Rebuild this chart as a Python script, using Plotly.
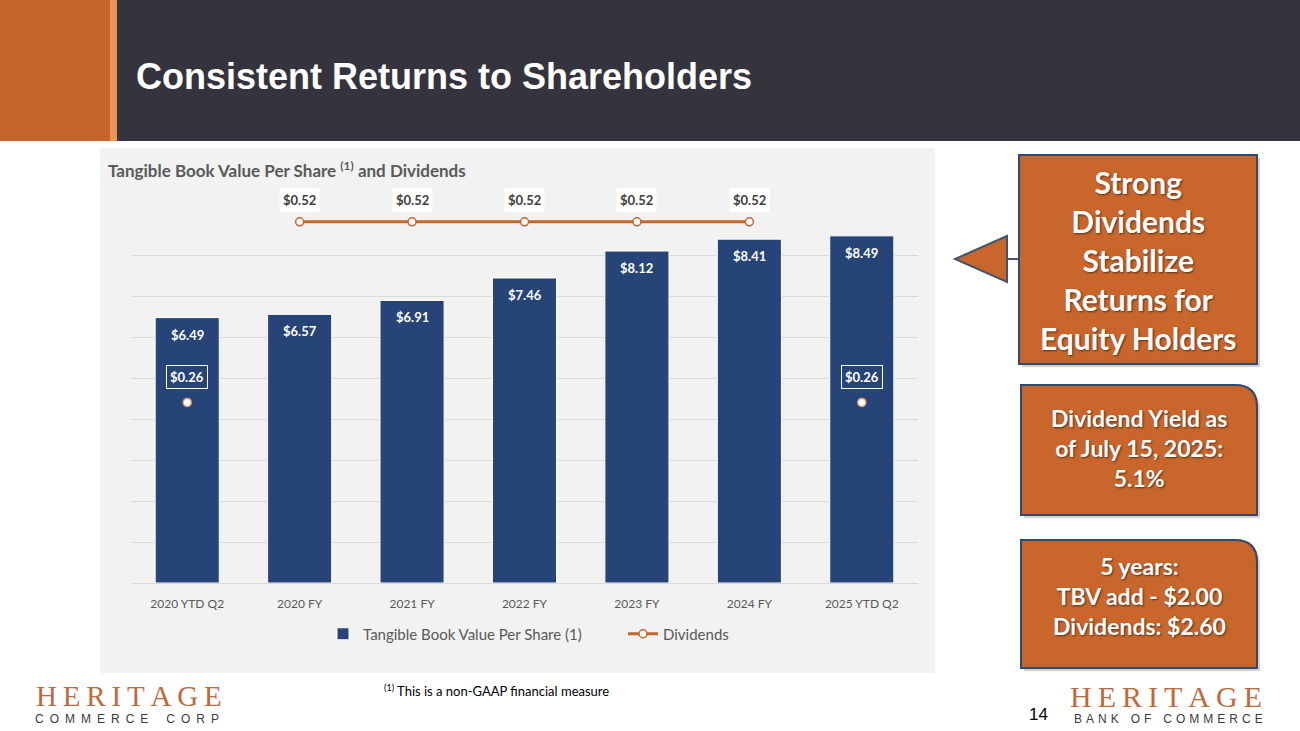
import plotly.graph_objects as go

W, H = 1300, 731

categories = ["2020 YTD Q2", "2020 FY", "2021 FY", "2022 FY", "2023 FY", "2024 FY", "2025 YTD Q2"]
tbv_per_share = [6.49, 6.57, 6.91, 7.46, 8.12, 8.41, 8.49]
dividends = [0.26, 0.52, 0.52, 0.52, 0.52, 0.52, 0.26]
tbv_label = "Tangible Book Value Per Share (1)"
div_label = "Dividends"

NAVY = "#264478"
ORANGE = "#C5662A"
GRAY_TXT = "#595959"
FONT = "Lato"


def X(px):
    return px / W


def Y(py):
    return 1 - py / H


def spaced(text, sep, word_sep):
    return word_sep.join(sep.join(w) for w in text.split(" "))


fy_div = [d if "FY" in c else None for c, d in zip(categories, dividends)]
ytd_div = [d if "YTD" in c else None for c, d in zip(categories, dividends)]

fig = go.Figure()
fig.add_trace(go.Bar(
    x=categories, y=tbv_per_share, name=tbv_label,
    marker=dict(color=NAVY, line=dict(color="white", width=1)),
    width=0.57, yaxis="y",
))
fig.add_trace(go.Scatter(
    x=categories, y=fy_div, name=div_label, mode="lines+markers",
    line=dict(color=ORANGE, width=3),
    marker=dict(size=8, color="white", line=dict(color=ORANGE, width=1.5)),
    yaxis="y2", connectgaps=False,
))
fig.add_trace(go.Scatter(
    x=categories, y=ytd_div, name=div_label, mode="markers", showlegend=False,
    marker=dict(size=8, color="white", line=dict(color="#E9A46C", width=1.5)),
    yaxis="y2",
))

annotations = []
for c, v in zip(categories, tbv_per_share):
    annotations.append(dict(
        x=c, y=v, xref="x", yref="y", text=f"${v:.2f}", showarrow=False,
        yshift=-17, font=dict(family=FONT, size=13, color="white", weight="bold"),
    ))
for c, d in zip(categories, dividends):
    if "FY" in c:
        annotations.append(dict(
            x=c, y=d, xref="x", yref="y2", text=f"${d:.2f}", showarrow=False,
            yshift=22, bgcolor="white", borderpad=3,
            font=dict(family=FONT, size=13, color="#404040", weight="bold"),
        ))
    else:
        annotations.append(dict(
            x=c, y=d, xref="x", yref="y2", text=f"${d:.2f}", showarrow=False,
            yshift=25, bgcolor=NAVY, bordercolor="white", borderwidth=1, borderpad=3,
            font=dict(family=FONT, size=13, color="white", weight="bold"),
        ))

annotations.append(dict(
    x=X(134), y=Y(77), xref="paper", yref="paper", xanchor="left", yanchor="middle",
    text="<b>Consistent Returns to Shareholders</b>", showarrow=False,
    font=dict(family="Liberation Sans", size=36, color="white"),
))
annotations.append(dict(
    x=X(106), y=Y(170), xref="paper", yref="paper", xanchor="left", yanchor="middle",
    text="<b>Tangible Book Value Per Share <sup>(1)</sup> and Dividends</b>", showarrow=False,
    font=dict(family=FONT, size=17, color=GRAY_TXT),
))
shadow = "1px 1px 2px rgba(0,0,0,0.55)"
annotations.append(dict(
    x=X(1138), y=Y(260), xref="paper", yref="paper", xanchor="center", yanchor="middle",
    text="<b>Strong<br>Dividends<br>Stabilize<br>Returns for<br>Equity Holders</b>",
    showarrow=False, align="center",
    font=dict(family=FONT, size=30, color="white", shadow=shadow),
))
annotations.append(dict(
    x=X(1139), y=Y(448), xref="paper", yref="paper", xanchor="center", yanchor="middle",
    text="<b>Dividend Yield as<br>of July 15, 2025:<br>5.1%</b>",
    showarrow=False, align="center",
    font=dict(family=FONT, size=23, color="white", shadow=shadow),
))
annotations.append(dict(
    x=X(1139), y=Y(596), xref="paper", yref="paper", xanchor="center", yanchor="middle",
    text="<b>5 years:<br>TBV add - $2.00<br>Dividends: $2.60</b>",
    showarrow=False, align="center",
    font=dict(family=FONT, size=23, color="white", shadow=shadow),
))
annotations.append(dict(
    x=X(382), y=Y(690), xref="paper", yref="paper", xanchor="left", yanchor="middle",
    text="<sup>(1)</sup> This is a non-GAAP financial measure", showarrow=False,
    font=dict(family=FONT, size=13, color="black"),
))
LOGO_OR = "#BE6A3C"
annotations.append(dict(
    x=X(129), y=Y(696), xref="paper", yref="paper", xanchor="center", yanchor="middle",
    text=spaced("HERITAGE", "\u2009", " "), showarrow=False,
    font=dict(family="Liberation Serif", size=29, color=LOGO_OR),
))
annotations.append(dict(
    x=X(127), y=Y(719), xref="paper", yref="paper", xanchor="center", yanchor="middle",
    text=spaced("COMMERCE CORP", "\u2002", "\u2002\u2002\u2002"), showarrow=False,
    font=dict(family="Liberation Sans", size=12, color="#3A3A3A"),
))
annotations.append(dict(
    x=X(1166), y=Y(696), xref="paper", yref="paper", xanchor="center", yanchor="middle",
    text=spaced("HERITAGE", "\u2009", " "), showarrow=False,
    font=dict(family="Liberation Serif", size=30, color=LOGO_OR),
))
annotations.append(dict(
    x=X(1168), y=Y(719), xref="paper", yref="paper", xanchor="center", yanchor="middle",
    text=spaced("BANK OF COMMERCE", "\u2004", "\u2002\u2002"),
    showarrow=False,
    font=dict(family="Liberation Sans", size=12, color="#3A3A3A"),
))
annotations.append(dict(
    x=X(1038), y=Y(714), xref="paper", yref="paper", xanchor="center", yanchor="middle",
    text="14", showarrow=False,
    font=dict(family="Liberation Sans", size=17, color="black"),
))

shapes = []
shapes.append(dict(type="rect", xref="paper", yref="paper", x0=0, x1=1, y0=Y(141), y1=1,
                   fillcolor="#35333E", line=dict(width=0), layer="below"))
shapes.append(dict(type="rect", xref="paper", yref="paper", x0=0, x1=X(110), y0=Y(141), y1=1,
                   fillcolor="#C5652B", line=dict(width=0), layer="below"))
shapes.append(dict(type="rect", xref="paper", yref="paper", x0=X(110), x1=X(117), y0=Y(141), y1=1,
                   fillcolor="#E8955A", line=dict(width=0), layer="below"))
shapes.append(dict(type="rect", xref="paper", yref="paper", x0=X(100), x1=X(935), y0=Y(673), y1=Y(148),
                   fillcolor="#F2F2F2", line=dict(width=0), layer="below"))

BOX_OR = "#C8662C"
BOX_LINE = "#2F4A6D"


def P(px, py):
    return f"{X(px):.5f},{Y(py):.5f}"


shapes.append(dict(type="rect", xref="paper", yref="paper", x0=X(1022), x1=X(1260), y0=Y(367), y1=Y(158),
                   fillcolor="rgba(0,0,0,0.18)", line=dict(width=0), layer="below"))
shapes.append(dict(type="rect", xref="paper", yref="paper", x0=X(1019), x1=X(1257), y0=Y(364), y1=Y(155),
                   fillcolor=BOX_OR, line=dict(color=BOX_LINE, width=2), layer="below"))
shapes.append(dict(type="line", xref="paper", yref="paper", x0=X(1007), x1=X(1019), y0=Y(259), y1=Y(259),
                   line=dict(color="#44546A", width=2)))
shapes.append(dict(type="path", xref="paper", yref="paper",
                   path=f"M {P(1007,236)} L {P(955,259)} L {P(1007,282)} Z",
                   fillcolor=BOX_OR, line=dict(color="#44546A", width=2)))


def rounded_box(x0, y0, x1, y1, r):
    pts = [
        f"M {P(x0, y0)}",
        f"L {P(x1 - r, y0)}",
        f"Q {P(x1, y0)} {P(x1, y0 + r)}",
        f"L {P(x1, y1)}",
        f"L {P(x0, y1)}",
        "Z",
    ]
    return " ".join(pts)


for (bx0, by0, bx1, by1) in [(1021, 385, 1257, 515), (1021, 540, 1257, 668)]:
    shapes.append(dict(type="path", xref="paper", yref="paper",
                       path=rounded_box(bx0 + 3, by0 + 3, bx1 + 3, by1 + 3, 22),
                       fillcolor="rgba(0,0,0,0.18)", line=dict(width=0), layer="below"))
    shapes.append(dict(type="path", xref="paper", yref="paper",
                       path=rounded_box(bx0, by0, bx1, by1, 22),
                       fillcolor=BOX_OR, line=dict(color=BOX_LINE, width=2), layer="below"))

fig.update_layout(
    width=W, height=H,
    margin=dict(l=0, r=0, t=0, b=0),
    paper_bgcolor="white", plot_bgcolor="rgba(0,0,0,0)",
    bargap=0.43,
    showlegend=True,
    legend=dict(orientation="h", x=X(323), y=Y(634), xanchor="left", yanchor="middle",
                font=dict(family=FONT, size=15, color=GRAY_TXT), bgcolor="rgba(0,0,0,0)",
                entrywidth=255, entrywidthmode="pixels", tracegroupgap=0),
    xaxis=dict(domain=[X(131), X(918)], anchor="y", showgrid=False, showline=False,
               tickfont=dict(family=FONT, size=12, color=GRAY_TXT), ticks="", ticklabelstandoff=12),
    yaxis=dict(domain=[Y(583), Y(214.2)], range=[0, 9.02], dtick=1, showticklabels=False,
               showgrid=True, gridcolor="#D9D9D9", gridwidth=1, zeroline=True,
               zerolinecolor="#D9D9D9", zerolinewidth=1, showline=False),
    yaxis2=dict(domain=[Y(583), Y(214.2)], overlaying="y", range=[0, 0.531], showticklabels=False,
                showgrid=False, zeroline=False, showline=False, anchor="x"),
    annotations=annotations,
    shapes=shapes,
    font=dict(family=FONT),
)

fig.write_html(
    "out.html",
    config={"displayModeBar": False},
    post_script="document.body.style.margin='0';document.body.style.padding='0';"
                "document.documentElement.style.overflow='hidden';",
)
